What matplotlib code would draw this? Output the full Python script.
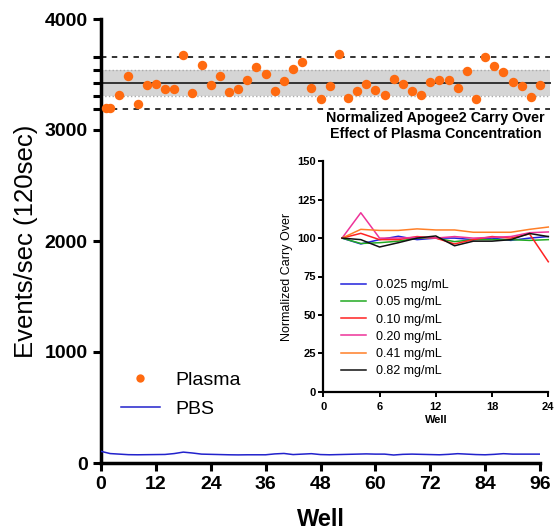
import matplotlib
matplotlib.use("Agg")
import matplotlib.pyplot as plt
from matplotlib.lines import Line2D

plt.rcParams['font.family'] = ['Liberation Sans', 'DejaVu Sans']

# ---------------- data ----------------
plasma_wells = [1, 2] + list(range(4, 97, 2))
plasma_vals = [3198, 3198, 3315, 3486, 3234, 3408, 3417, 3372, 3372, 3679,
               3330, 3589, 3408, 3489, 3339, 3372, 3450, 3568, 3507, 3351,
               3438, 3552, 3609, 3381, 3282, 3399, 3688, 3288, 3351, 3417,
               3360, 3318, 3462, 3417, 3351, 3318, 3435, 3450, 3450, 3381,
               3532, 3282, 3661, 3574, 3520, 3435, 3396, 3294, 3408]

pbs_wells = list(range(0, 97, 2))
pbs_vals = [105, 85, 80, 75, 74, 75, 76, 77, 85, 98, 90, 80, 78, 76, 74, 73,
            74, 74, 74, 82, 86, 76, 80, 84, 76, 74, 76, 78, 80, 82, 80, 80,
            72, 78, 80, 78, 76, 74, 78, 84, 80, 76, 74, 78, 84, 80, 80, 80, 80]

plasma_mean = 3421
plasma_sd = 117

main_xticks = [0, 12, 24, 36, 48, 60, 72, 84, 96]
main_yticks = [0, 1000, 2000, 3000, 4000]

inset_wells = [2, 4, 6, 8, 10, 12, 14, 16, 18, 20, 22, 24]
conc_labels = ['0.025 mg/mL', '0.05 mg/mL', '0.10 mg/mL',
               '0.20 mg/mL', '0.41 mg/mL', '0.82 mg/mL']
c0025 = [100, 96.2, 99, 101.2, 99, 100, 100, 99, 100, 98.5, 100, 101]
c005 = [100, 96.5, 97, 98, 100, 100, 97.7, 99, 99, 99, 98.5, 99]
c010 = [100, 103.1, 99, 99, 101, 100, 96.2, 99, 101, 100, 102.7, 84.6]
c020 = [100, 116.5, 100, 100, 100.5, 100, 101, 100, 100.5, 101, 103.5, 104]
c041 = [100, 105.7, 105, 105, 106, 105.3, 105.3, 103.8, 103.8, 103.8, 105.7, 107.2]
c082 = [100, 99, 94.2, 97, 100, 101.4, 95, 98, 98, 99, 103, 101]
inset_series = [c0025, c005, c010, c020, c041, c082]
inset_colors = ['#2222dd', '#22aa22', '#ff2222', '#ee3399', '#ff7f27', '#111111']
inset_xticks = [0, 6, 12, 18, 24]
inset_yticks = [0, 25, 50, 75, 100, 125, 150]

# ---------------- figure ----------------
W, H = 558, 531
fig = plt.figure(figsize=(W / 100, H / 100), dpi=100)

ax = fig.add_axes([101 / W, (H - 463) / H, 439 / W, 444 / H])
ax.set_xlim(0, 96)
ax.set_ylim(0, 4000)
for s in ['top', 'right']:
    ax.spines[s].set_visible(False)
for s in ['left', 'bottom']:
    ax.spines[s].set_linewidth(2.5)

ax.set_xticks(main_xticks)
ax.set_yticks(main_yticks)
ax.set_yticks([plasma_mean - 2 * plasma_sd, plasma_mean - plasma_sd, plasma_mean,
               plasma_mean + plasma_sd, plasma_mean + 2 * plasma_sd], minor=True)
ax.tick_params(axis='both', which='both', direction='out', length=6, width=2.2,
               labelsize=14)
ax.tick_params(axis='y', which='minor', length=6, width=2.2)
for lab in ax.get_xticklabels() + ax.get_yticklabels():
    lab.set_fontweight('bold')

xs = [0, 98.2]
ax.fill_between(xs, plasma_mean - plasma_sd, plasma_mean + plasma_sd,
                color='#d5d5d5', lw=0, zorder=1, clip_on=False)
for v in [plasma_mean - plasma_sd, plasma_mean + plasma_sd]:
    ax.plot(xs, [v, v], ls=':', color='#aaaaaa', lw=1, zorder=2, clip_on=False)
ax.plot(xs, [plasma_mean] * 2, color='#333333', lw=1.4, zorder=2, clip_on=False)
for v in [plasma_mean - 2 * plasma_sd, plasma_mean + 2 * plasma_sd]:
    ax.plot(xs, [v, v], ls=(0, (3, 3)), color='#222222', lw=1.3, zorder=2,
            clip_on=False)

ax.plot(plasma_wells, plasma_vals, 'o', color='#ff6a10', ms=6.8, mec='none',
        zorder=4, clip_on=False)
ax.plot(pbs_wells, pbs_vals, '-', color='#2222cc', lw=1.1, zorder=3)

ax.set_xlabel('Well', fontsize=17, fontweight='bold', labelpad=11)
ax.set_ylabel('Events/sec (120sec)', fontsize=18.5, labelpad=5)

handles = [Line2D([], [], ls='none', marker='o', color='#ff6a10', mec='none', ms=6),
           Line2D([], [], color='#2222cc', lw=1.1)]
leg = ax.legend(handles, ['Plasma', 'PBS'], loc='upper left',
                bbox_to_anchor=((121 - 101) / 439, (463 - 371) / 444),
                frameon=False, fontsize=14, handlelength=2.0, handletextpad=0.8,
                labelspacing=0.62, borderaxespad=0, borderpad=0)

# ---------------- inset ----------------
ix0, ix1 = 323.3, 548.3
iy0, iy1 = 391.7, 161.3
iax = fig.add_axes([ix0 / W, (H - iy0) / H, (ix1 - ix0) / W, (iy0 - iy1) / H])
iax.patch.set_alpha(0)
iax.set_xlim(0, 24)
iax.set_ylim(0, 150)
for s in ['top', 'right']:
    iax.spines[s].set_visible(False)
for s in ['left', 'bottom']:
    iax.spines[s].set_linewidth(1.6)
iax.set_xticks(inset_xticks)
iax.set_yticks(inset_yticks)
iax.tick_params(direction='out', length=3.5, width=1.4, labelsize=8, pad=2)
iax.tick_params(axis='x', pad=4)
for lab in iax.get_xticklabels() + iax.get_yticklabels():
    lab.set_fontweight('bold')
for vals, col, lab in zip(inset_series, inset_colors, conc_labels):
    iax.plot(inset_wells, vals, color=col, lw=1.1, label=lab, clip_on=False)
iax.set_xlabel('Well', fontsize=8, fontweight='bold', labelpad=2)
iax.set_ylabel('Normalized Carry Over', fontsize=9, labelpad=3)
iax.legend(loc='upper left', bbox_to_anchor=(0.08, (391.7 - 279) / (iy0 - iy1)),
           frameon=False, fontsize=9, handlelength=2.0, handletextpad=0.8,
           labelspacing=0.42, borderaxespad=0, borderpad=0)

fig.text((ix0 + ix1) / 2 / W, 1 - 126 / H,
         'Normalized Apogee2 Carry Over\nEffect of Plasma Concentration',
         ha='center', va='center', fontsize=10.3, fontweight='bold', linespacing=1.1)

fig.savefig('out.png', dpi=100)
